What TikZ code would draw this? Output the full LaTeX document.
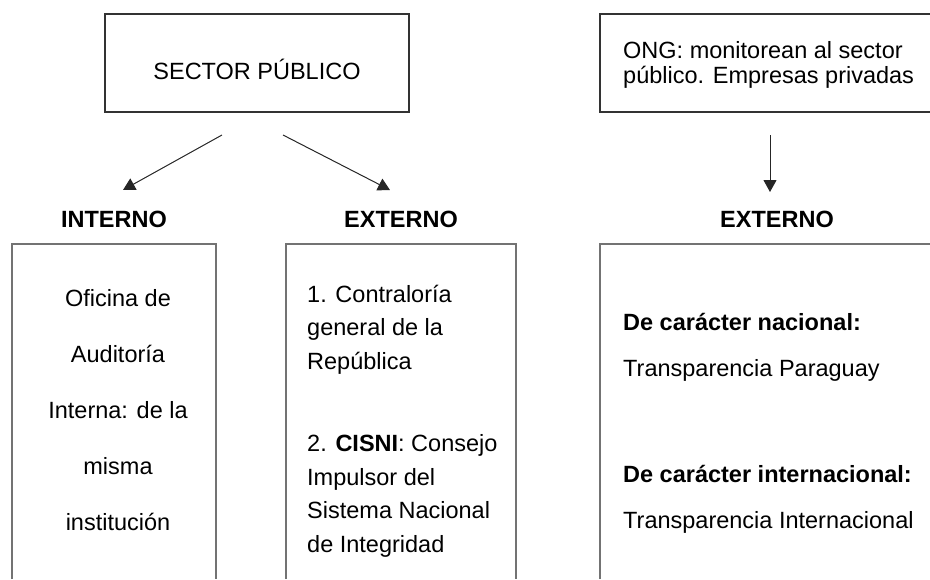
\documentclass[tikz,border=0pt]{standalone}
\usepackage{fontspec}
\setmainfont{Liberation Sans}
\usetikzlibrary{arrows.meta}
\tikzset{
  box/.style={draw=black!80, line width=1.3pt},
  openbox/.style={draw=black!55, line width=1.3pt, line join=miter},
  head/.style={font=\fontsize{23.5}{27}\selectfont\bfseries, anchor=base},
  link/.style={-{Triangle[length=12pt,width=13pt]}, line width=1pt, black!85},
  body/.style={anchor=base west, align=left, inner sep=0pt}
}
\begin{document}
\begin{tikzpicture}[x=1pt,y=-1pt, font=\fontsize{23.5}{27}\selectfont]
\useasboundingbox (0,0) rectangle (930,579);
\node[box, minimum width=304pt, minimum height=98pt] (sector) at (257,63) {};
\node[anchor=base] (sectortext) at (257,79) {SECTOR PÚBLICO};
\node[box, minimum width=345pt, minimum height=98pt] (ong) at (772.5,63) {};
\node[body, font=\fontsize{23.5}{25}\selectfont] (ongtext) at (623,83) {ONG: monitorean al sector\\público. Empresas privadas};

\coordinate (s1) at (222,135);
\coordinate (s2) at (283,135);
\coordinate (o1) at (770,135);
\coordinate (t1) at (123,190);
\coordinate (t2) at (390,190);
\coordinate (t3) at (770,192);
\draw[link] (s1) -- (t1);
\draw[link] (s2) -- (t2);
\draw[link] (o1) -- (t3);

\node[head] (interno) at (114,227) {INTERNO};
\node[head] (externo) at (401,227) {EXTERNO};
\node[head] (ongexterno) at (777,227) {EXTERNO};

\draw[openbox] (12,579) |- (216,244) -- (216,579);
\draw[openbox] (286,579) |- (516,244) -- (516,579);
\draw[openbox] (600,579) |- (945,244);

\node[anchor=base, align=center, inner sep=0pt, font=\fontsize{23.5}{56}\selectfont] (interna) at (118,530)
  {Oficina de\\Auditoría\\Interna: de la\\misma\\institución};
\node[body, font=\fontsize{23.5}{33.5}\selectfont] (contraloria) at (307,369)
  {1. Contraloría\\general de la\\República};
\node[body, font=\fontsize{23.5}{33.5}\selectfont] (cisni) at (307,552)
  {2. \textbf{CISNI}: Consejo\\Impulsor del\\Sistema Nacional\\de Integridad};
\node[body, font=\fontsize{23.5}{46}\selectfont] (nacional) at (623,376)
  {\textbf{De carácter nacional:}\\Transparencia Paraguay};
\node[body, font=\fontsize{23.5}{46}\selectfont] (internacional) at (623,528)
  {\textbf{De carácter internacional:}\\Transparencia Internacional};
\end{tikzpicture}
\end{document}
